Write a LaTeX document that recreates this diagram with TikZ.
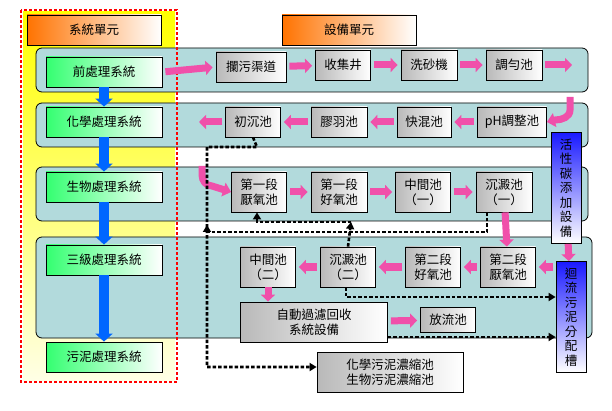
\documentclass[tikz,border=0pt]{standalone}
\usepackage{fontspec}
\setmainfont{Noto Sans CJK TC}
\usetikzlibrary{arrows.meta}
\definecolor{band}{RGB}{178,218,220}
\definecolor{pk}{RGB}{240,80,170}
\tikzset{
 x=1pt,y=-1pt,
 gbox/.style={draw=black,line width=0.8pt,left color=gray!55,right color=white,font=\fontsize{12.5}{15}\selectfont,align=center,inner sep=1pt},
 sbox/.style={draw=black,line width=0.8pt,left color=green!70!cyan!80,right color=white,font=\fontsize{12.5}{15}\selectfont,minimum width=116pt,minimum height=30pt},
 hbox/.style={draw=black,line width=0.8pt,left color=orange!90!red,right color=white,font=\fontsize{12.5}{15}\selectfont,minimum width=134pt,minimum height=30pt},
 vbox/.style={draw=black,line width=0.8pt,top color=blue!90,bottom color=white,font=\fontsize{12.5}{14.5}\selectfont,align=center,inner sep=1pt,minimum width=30pt},
 bandst/.style={draw=black,line width=0.8pt,fill=band,rounded corners=6pt},
 parr/.style={draw=pk,line width=7pt,shorten <=3pt,shorten >=3pt,-{Triangle[width=14pt,length=7pt]}},
 barr/.style={draw=blue!60!cyan,line width=10pt,-{Triangle[width=17pt,length=8pt]}},
 dl/.style={draw=black,line width=2.6pt,dash pattern=on 3.5pt off 2pt},
 da/.style={dl,-{Triangle[width=8pt,length=7pt]}},
}
\begin{document}
\begin{tikzpicture}
\useasboundingbox (0,0) rectangle (612,411);
\fill[top color=yellow,bottom color=yellow!10] (23,12) rectangle (175,380);
\draw[bandst] (36,48) rectangle (588,92);
\draw[bandst] (36,103) rectangle (588,147);
\draw[bandst] (36,167) rectangle (588,221);
\draw[bandst] (36,237) rectangle (592,338);
\draw[red,line width=2.5pt,dash pattern=on 3pt off 2pt] (21,10) rectangle (177,382);
\node[hbox] (h1) at (94,30) {系統單元};
\node[hbox] (h2) at (349,30) {設備單元};
\node[sbox] (s1) at (104,72) {前處理系統};
\node[sbox] (s2) at (104,122) {化學處理系統};
\node[sbox] (s3) at (104,187) {生物處理系統};
\node[sbox] (s4) at (104,260) {三級處理系統};
\node[sbox] (s5) at (104,357) {污泥處理系統};
\foreach \a/\b in {s1/s2,s2/s3,s3/s4,s4/s5}{\draw[barr] (\a.south) -- (\b.north);}
\node[gbox,minimum width=70pt,minimum height=30pt] (b1) at (251,67) {攔污渠道};
\node[gbox,minimum width=55pt,minimum height=30pt] (b2) at (343,65) {收集井};
\node[gbox,minimum width=56pt,minimum height=30pt] (b3) at (429,65) {洗砂機};
\node[gbox,minimum width=56pt,minimum height=30pt] (b4) at (514,65) {調勻池};
\coordinate (e1) at (575,65);
\draw[parr] (s1.east) -- (b1.west);
\draw[parr] (b1) -- (b2);
\draw[parr] (b2) -- (b3);
\draw[parr] (b3) -- (b4);
\draw[parr] (b4) -- (e1);
\node[gbox,minimum width=69pt,minimum height=30pt] (c1) at (512,122) {pH調整池};
\node[gbox,minimum width=54pt,minimum height=30pt] (c2) at (424,122) {快混池};
\node[gbox,minimum width=56pt,minimum height=30pt] (c3) at (339,122) {膠羽池};
\node[gbox,minimum width=55pt,minimum height=30pt] (c4) at (253,122) {初沉池};
\coordinate (e2) at (196,122);
\draw[parr] (c1) -- (c2);
\draw[parr] (c2) -- (c3);
\draw[parr] (c3) -- (c4);
\draw[parr] (c4) -- (e2);
\coordinate (t1) at (570,97);
\draw[pk,line width=7pt,-{Triangle[width=14pt,length=8pt]}] (t1) -- (570,110) to[out=-90,in=0] (555,120) -- (c1.east);
\node[vbox,minimum height=111pt] (ac) at (566,188) {活\\性\\碳\\添\\加\\設\\備};
\node[gbox,minimum width=55pt,minimum height=40pt] (d1) at (259,192) {第一段\\厭氧池};
\node[gbox,minimum width=56pt,minimum height=40pt] (d2) at (339,192) {第一段\\好氧池};
\node[gbox,minimum width=55pt,minimum height=40pt] (d3) at (423,192) {中間池\\（一）};
\node[gbox,minimum width=56pt,minimum height=40pt] (d4) at (504,192) {沉澱池\\（一）};
\draw[parr] (d1) -- (d2);
\draw[parr] (d2) -- (d3);
\draw[parr] (d3) -- (d4);
\coordinate (t3) at (202,166);
\draw[pk,line width=7pt,-{Triangle[width=14pt,length=8pt]}] (t3) -- (202,175) to[out=-90,in=180] (212,186) -- (d1.west);
\node[gbox,minimum width=55pt,minimum height=40pt] (f1) at (268,267) {中間池\\（二）};
\node[gbox,minimum width=55pt,minimum height=40pt] (f2) at (348,267) {沉澱池\\（二）};
\node[gbox,minimum width=55pt,minimum height=40pt] (f3) at (433,267) {第二段\\好氧池};
\node[gbox,minimum width=55pt,minimum height=40pt] (f4) at (508,267) {第二段\\厭氧池};
\node[vbox,minimum height=111pt] (rs) at (571,317) {迴\\流\\污\\泥\\分\\配\\槽};
\node[gbox,minimum width=147pt,minimum height=40pt] (g1) at (314,322) {自動過濾回收\\系統設備};
\node[gbox,minimum width=55pt,minimum height=25pt] (g2) at (448,320) {放流池};
\node[gbox,minimum width=146pt,minimum height=40pt] (g3) at (390,372) {化學污泥濃縮池\\生物污泥濃縮池};
\draw[parr] (f4) -- (f3);
\draw[parr] (f3) -- (f2);
\draw[parr] (f2) -- (f1);
\draw[parr,shorten <=0pt,shorten >=0pt] (f1) -- (g1.north -| f1);
\draw[parr] (g1) -- (g2);
\draw[parr,shorten <=0pt,shorten >=0pt] (d4) -- (f4);
\draw[parr,shorten <=0pt,shorten >=0pt] (ac) -- (rs);
\draw[parr] (rs.west |- f4.east) -- (f4.east);
\draw[da] (c4.south) -- (257,147) -- (207,147) -- (207,367) -- (g3.west |- 0,367);
\draw[da] (d4.south -| 487,0) -- (487,232) -- (207,232) -- (207,225);
\draw[da] (f2.north) -- (351,222);
\draw[da] (351,222) -- (257,222) -- (d1.south -| 257,0);
\draw[da] (f2.south -| 346,0) -- (346,297) -- (rs.west |- 0,297);
\draw[da] (g1.east |- 0,337) -- (rs.west |- 0,337);
\end{tikzpicture}
\end{document}
